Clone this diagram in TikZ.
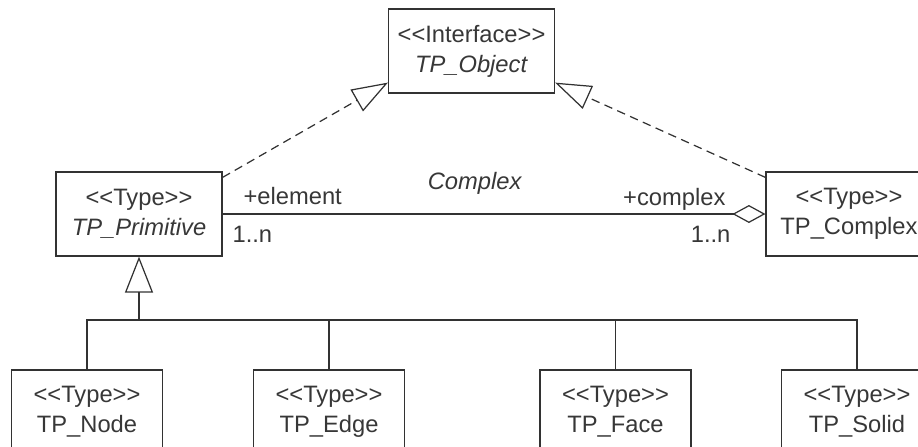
\documentclass[tikz,border=0pt]{standalone}
\usepackage{fontspec}
\setmainfont{Liberation Sans}
\usetikzlibrary{arrows.meta,positioning}
\definecolor{umlline}{RGB}{50,50,50}
\definecolor{umltext}{RGB}{55,55,55}
\newcommand{\stereo}[1]{<\kern0pt<#1>\kern0pt>}

\begin{document}
\begin{tikzpicture}[x=0.02cm, y=-0.02cm, line width=0.7pt, color=umlline, text=umltext,
        font=\fontsize{13.5}{17}\selectfont,
        classbox/.style={draw, rectangle, align=center, inner sep=0pt, minimum width=3.32cm, minimum height=1.68cm},
        leafbox/.style={classbox, minimum width=3.02cm},
        realize/.style={draw, dash pattern=on 1.7mm off 1.1mm, -{Triangle[open, length=7.2mm, width=5mm]}},
        inherit/.style={draw, -{Triangle[open, length=7.2mm, width=5.6mm]}},
        aggregate/.style={draw, -{Diamond[open, length=6.6mm, width=3.6mm]}},
        role/.style={inner sep=0pt}]
    \useasboundingbox (0,0) rectangle (918,446);
    \clip (0,0) rectangle (918,446);
    \node (object) at (471.5,51) [classbox] {\stereo{Interface}\\\textit{TP\_Object}};
    \node (primitive) at (139,214) [classbox] {\stereo{Type}\\\textit{TP\_Primitive}};
    \node (complex) at (849,214) [classbox] {\stereo{Type}\\TP\_Complex};
    \node (tpnode) at (87,412) [leafbox] {\stereo{Type}\\TP\_Node};
    \node (edge) at (329,412) [leafbox] {\stereo{Type}\\TP\_Edge};
    \node (face) at (615.5,412) [leafbox] {\stereo{Type}\\TP\_Face};
    \node (solid) at (857,412) [leafbox] {\stereo{Type}\\TP\_Solid};
    \coordinate (bus) at (139,320);
    \path [realize] ([yshift=-0.12cm]primitive.north east) -- ([yshift=0.22cm]object.south west);
    \path [realize] ([yshift=-0.12cm]complex.north west) -- ([yshift=0.22cm]object.south east);
    \path [aggregate] (primitive.east) -- (complex.west);
    \node (assoc) at (475,183) {\textit{Complex}};
    \node (element) [role, anchor=base west] at (243,204) {+element};
    \node (lowmult) [role, anchor=base west] at (232,242) {1..n};
    \node (cplxrole) [role, anchor=base east] at (726,205) {+complex};
    \node (highmult) [role, anchor=base east] at (731,242) {1..n};
    \path [draw] (tpnode.north) |- (bus);
    \path [draw] (edge.north) |- (bus);
    \path [draw] (face.north) |- (bus);
    \path [draw] (solid.north) |- (bus);
    \path [inherit] (bus) -- (primitive.south);
\end{tikzpicture}
\end{document}
